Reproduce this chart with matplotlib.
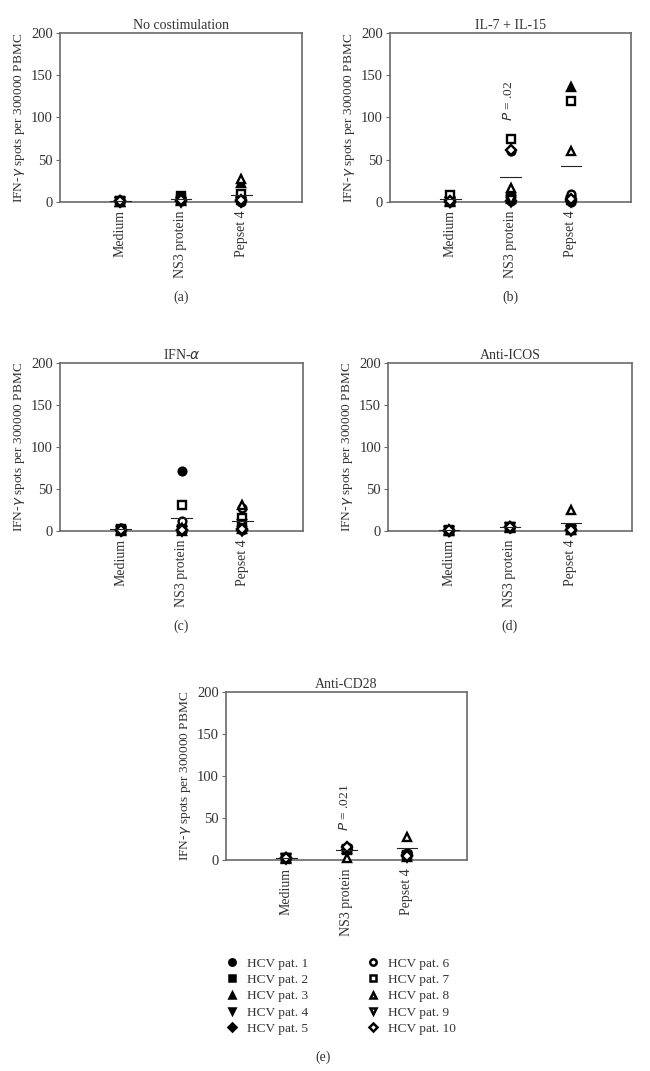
import matplotlib
matplotlib.use("Agg")
import matplotlib.pyplot as plt
from matplotlib.lines import Line2D

plt.rcParams['font.family'] = ['Liberation Serif', 'DejaVu Serif']

# categories and patients
categories = ['Medium', 'NS3 protein', 'Pepset 4']
patients = ['HCV pat. %d' % i for i in range(1, 11)]
markers = ['o', 's', '^', 'v', 'D', 'o', 's', '^', 'v', 'D']
filled = [True] * 5 + [False] * 5

# values per panel: one list of 10 patients per category
noco_medium = [0, 1, 0, 0, 1, 2, 1, 0, 0, 1]
noco_ns3 = [1, 7, 2, 0, 1, 3, 3, 1, 0, 2]
noco_pepset = [0, 2, 23, 0, 1, 3, 10, 27, 0, 2]
noco_means = [1, 3, 8]

il_medium = [0, 1, 0, 0, 0, 3, 8, 1, 0, 1]
il_ns3 = [1, 5, 3, 0, 1, 60, 75, 17, 2, 62]
il_pepset = [0, 2, 136, 0, 1, 10, 120, 60, 1, 3]
il_means = [3, 29, 43]

ifn_medium = [0, 1, 0, 0, 1, 4, 2, 1, 0, 1]
ifn_ns3 = [72, 2, 0, 0, 1, 12, 31, 3, 0, 1]
ifn_pepset = [1, 3, 2, 0, 1, 27, 16, 31, 8, 2]
ifn_means = [2, 16, 12]

icos_medium = [0, 0, 0, 0, 0, 1, 1, 1, 0, 1]
icos_ns3 = [4, 5, 4, 5, 5, 5, 5, 5, 4, 5]
icos_pepset = [1, 2, 1, 0, 1, 2, 1, 25, 1, 1]
icos_means = [1, 5, 10]

cd28_medium = [2, 2, 1, 2, 2, 2, 2, 2, 1, 2]
cd28_ns3 = [14, 12, 13, 11, 12, 16, 13, 2, 12, 15]
cd28_pepset = [6, 5, 4, 3, 6, 8, 6, 27, 3, 5]
cd28_means = [2, 12, 14]

panels = [
    ('No costimulation', '(a)', [noco_medium, noco_ns3, noco_pepset], noco_means, None,
     [0.0923, 0.8114, 0.372, 0.1578]),
    ('IL-7 + IL-15', '(b)', [il_medium, il_ns3, il_pepset], il_means, ('$P$ = .02', 120),
     [0.600, 0.8114, 0.371, 0.1578]),
    ('IFN-$\\alpha$', '(c)', [ifn_medium, ifn_ns3, ifn_pepset], ifn_means, None,
     [0.0923, 0.5042, 0.374, 0.1569]),
    ('Anti-ICOS', '(d)', [icos_medium, icos_ns3, icos_pepset], icos_means, None,
     [0.597, 0.5042, 0.375, 0.1569]),
    ('Anti-CD28', None, [cd28_medium, cd28_ns3, cd28_pepset], cd28_means, ('$P$ = .021', 63),
     [0.3477, 0.197, 0.371, 0.1569]),
]

txt = '#333333'
gray = '#6a6a6a'

fig = plt.figure(figsize=(6.5, 10.71), dpi=100)

for title, label, data, means, ptext, pos in panels:
    ax = fig.add_axes(pos)
    for ci, vals in enumerate(data):
        x = ci + 1
        for pi, v in enumerate(vals):
            ms = 5.6 if markers[pi] != 'D' else 4.6
            ax.plot(x, v, marker=markers[pi], ms=ms, mec='black', mew=1.7,
                    mfc='black' if filled[pi] else 'white', linestyle='none',
                    clip_on=False, zorder=3)
        ax.plot([x - 0.17, x + 0.17], [means[ci], means[ci]], color='#222222',
                lw=0.8, zorder=4, clip_on=False)
    ax.set_xlim(0, 4)
    ax.set_ylim(0, 200)
    ax.set_yticks([0, 50, 100, 150, 200])
    ax.set_xticks([1, 2, 3])
    ax.set_xticklabels(categories, rotation=90, fontsize=10, color=txt)
    ax.tick_params(axis='x', length=0, pad=6)
    ax.tick_params(axis='y', length=3, width=0.8, color=gray, labelsize=10.5,
                   labelcolor=txt, pad=2)
    for s in ax.spines.values():
        s.set_color(gray)
        s.set_linewidth(1.2)
    ax.set_ylabel('IFN-$\\gamma$ spots per 300000 PBMC', fontsize=9.6, color=txt,
                  labelpad=3)
    ax.set_title(title, fontsize=10, color=txt, pad=3)
    if ptext is not None:
        ax.text(1.97, ptext[1], ptext[0], rotation=90, ha='center', va='center',
                fontsize=9.7, color=txt)
    if label is not None:
        ax.text(0.5, -0.565, label, transform=ax.transAxes, ha='center', va='center',
                fontsize=10, color=txt)

# legend with two columns
handles = []
for pi in range(10):
    ms = 4.6 if markers[pi] != 'D' else 3.8
    handles.append(Line2D([], [], marker=markers[pi], ms=ms, mec='black', mew=1.8,
                          mfc='black' if filled[pi] else 'white', linestyle='none'))
leg = fig.legend(handles, patients, ncol=2, loc='center', bbox_to_anchor=(0.524, 0.07),
                 frameon=False, fontsize=9.6, handletextpad=0.6, columnspacing=4.4,
                 labelspacing=0.3, handlelength=1.0)
for t in leg.get_texts():
    t.set_color(txt)
fig.text(0.497, 0.013, '(e)', ha='center', va='center', fontsize=10, color=txt)

fig.savefig('out.png', dpi=100)
